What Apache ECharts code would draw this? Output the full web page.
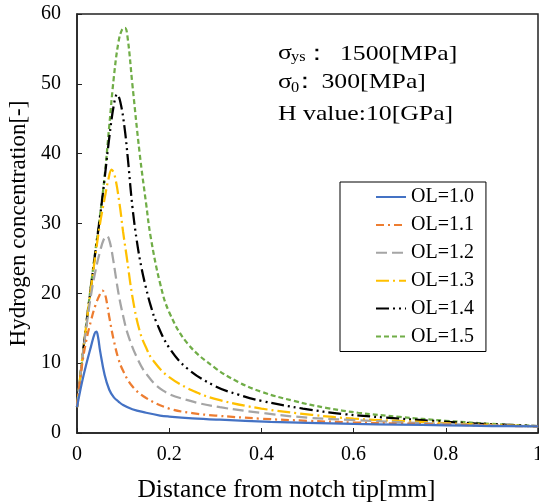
<!DOCTYPE html>
<html>
<head>
<meta charset="utf-8">
<script src="https://cdn.jsdelivr.net/npm/echarts@6/dist/echarts.min.js"></script>
<style>html,body{margin:0;padding:0;background:#fff}#c{width:539px;height:504px}</style>
</head>
<body>
<div id="c"></div>
<script>
const seriesNames = ['OL=1.0','OL=1.1','OL=1.2','OL=1.3','OL=1.4','OL=1.5'];
const xTicks = [0, 0.2, 0.4, 0.6, 0.8, 1];
const yTicks = [0, 10, 20, 30, 40, 50, 60];

const ol10X = [0,0.01,0.02,0.03,0.038,0.042,0.046,0.05,0.06,0.07,0.08,0.09,0.1,0.12,0.15,0.18,0.2,0.25,0.31,0.42,0.5,0.6,0.7,0.8,0.9,1.0];
const ol10Y = [3.7,7.0,9.8,12.3,14.2,14.5,13.6,11.8,8.3,6.2,5.1,4.5,4.0,3.4,2.9,2.5,2.35,2.1,1.9,1.6,1.45,1.3,1.2,1.1,1.0,0.95];

const ol11X = [0,0.01,0.02,0.03,0.04,0.05,0.055,0.06,0.065,0.07,0.08,0.09,0.1,0.12,0.15,0.2,0.25,0.3,0.4,0.5,0.6,0.7,0.8,0.9,1.0];
const ol11Y = [3.7,9.3,13.2,16.0,18.3,19.9,20.4,20.0,18.6,16.6,13.2,10.6,8.9,6.7,5.0,3.5,2.85,2.5,2.05,1.75,1.5,1.35,1.2,1.05,0.95];

const ol12X = [0,0.01,0.02,0.03,0.04,0.05,0.058,0.065,0.071,0.078,0.09,0.1,0.11,0.13,0.15,0.186,0.24,0.31,0.41,0.5,0.6,0.7,0.8,0.9,1.0];
const ol12Y = [3.7,9.8,15.0,19.6,23.2,26.0,27.7,28.2,27.4,25.0,20.0,16.8,14.2,10.8,8.5,6.1,4.7,3.7,2.8,2.2,1.85,1.55,1.3,1.1,0.95];

const ol13X = [0,0.01,0.02,0.03,0.04,0.05,0.06,0.068,0.075,0.082,0.0925,0.1,0.107,0.121,0.136,0.15,0.165,0.2,0.26,0.31,0.4,0.51,0.6,0.71,0.8,0.9,1.0];
const ol13Y = [3.7,9.8,15.4,20.6,25.5,30.0,33.6,36.3,37.7,36.8,32.7,28.8,25.6,19.2,14.6,12.2,10.4,8.0,5.8,4.7,3.5,2.6,2.06,1.7,1.4,1.15,0.95];

const ol14X = [0,0.01,0.02,0.03,0.04,0.05,0.06,0.07,0.08,0.087,0.094,0.103,0.11,0.12,0.13,0.14,0.15,0.16,0.172,0.2,0.24,0.3,0.35,0.4,0.49,0.58,0.67,0.77,0.87,1.0];
const ol14Y = [3.7,9.8,15.5,20.8,26.0,31.0,36.5,42.3,47.0,48.5,47.4,43.8,39.5,32.5,27.4,23.6,20.7,18.2,15.9,12.2,9.2,6.7,5.5,4.6,3.5,2.7,2.2,1.75,1.35,1.0];

const ol15X = [0,0.01,0.02,0.03,0.04,0.05,0.06,0.07,0.08,0.09,0.098,0.104,0.11,0.12,0.136,0.15,0.16,0.18,0.2,0.24,0.3,0.35,0.4,0.47,0.54,0.61,0.7,0.8,0.9,1.0];
const ol15Y = [3.7,9.8,15.6,21.0,26.2,31.2,36.8,44.0,51.0,56.0,57.8,58.0,56.5,50.0,40.0,32.8,28.0,21.5,17.3,12.8,9.3,7.3,5.9,4.6,3.6,2.9,2.3,1.75,1.3,1.0];

const xs = [ol10X, ol11X, ol12X, ol13X, ol14X, ol15X];
const ys = [ol10Y, ol11Y, ol12Y, ol13Y, ol14Y, ol15Y];
const colors = ['#4472C4','#ED7D31','#A5A5A5','#FFC000','#000000','#70AD47'];
const dashes = ['solid',[8,4,2,4],[11,5],[13,4,2,4],[13,4,2,4,2,4],[5,3]];

const serif = '"Liberation Serif","Times New Roman",serif';
const SX = 1.17;

const series = seriesNames.map((n,i)=>({
  name: n, type: 'line', showSymbol: false, symbol: 'none',
  smooth: 0.4,
  data: xs[i].map((x,j)=>[x, ys[i][j]]),
  lineStyle: {color: colors[i], width: 2.25, type: dashes[i]},
  itemStyle: {color: colors[i]},
  z: 10 - i
}));

function txt(t, left, top, size) {
  return {type:'text', left: left, top: top, scaleX: SX,
          style:{text: t, font: size + 'px ' + serif, fill:'#000'}};
}

const chart = echarts.init(document.getElementById('c'), null, {renderer: 'canvas'});
chart.setOption({
  animation: false,
  backgroundColor: '#fff',
  grid: {left: 77, right: 1, top: 14, bottom: 71, show: true, borderColor: '#222', borderWidth: 1.5,
         containLabel: false, outerBoundsMode: 'none'},
  xAxis: {
    type: 'value', min: xTicks[0], max: xTicks[xTicks.length-1], interval: 0.2,
    name: 'Distance from notch tip[mm]', nameLocation: 'middle', nameGap: 44,
    nameTextStyle: {fontFamily: serif, fontSize: 25.5, color: '#000', padding: [0, 42, 0, 0]},
    axisLine: {show: true, lineStyle: {color: '#222', width: 1.5}},
    axisTick: {show: true, inside: true, length: 5, lineStyle: {color: '#222'}},
    axisLabel: {fontFamily: serif, fontSize: 20, color: '#000', margin: 12,
      formatter: v => xTicks.includes(+v.toFixed(1)) ? String(+v.toFixed(1)) : ''},
    splitLine: {show: false}
  },
  yAxis: {
    type: 'value', min: yTicks[0], max: yTicks[yTicks.length-1], interval: 10,
    name: 'Hydrogen concentration[-]', nameLocation: 'middle', nameGap: 45,
    nameTextStyle: {fontFamily: serif, fontSize: 23, color: '#000'},
    axisLine: {show: true, lineStyle: {color: '#222', width: 1.5}},
    axisTick: {show: true, inside: true, length: 5, lineStyle: {color: '#222'}},
    axisLabel: {fontFamily: serif, fontSize: 20, color: '#000', margin: 16},
    splitLine: {show: false}
  },
  legend: {
    orient: 'vertical', left: 340, top: 182,
    data: seriesNames,
    borderColor: '#000', borderWidth: 1, borderRadius: 0,
    padding: [5, 12, 5, 35],
    itemWidth: 30, itemHeight: 16, itemGap: 7.9,
    itemStyle: {opacity: 0},
    textStyle: {fontFamily: serif, fontSize: 20, color: '#000'}
  },
  graphic: [
    txt('σ', 278, 42, 22),
    txt('ys', 291, 50, 14),
    txt('：', 304, 43, 22),
    txt('1500[MPa]', 340, 43, 22),
    txt('σ', 278, 71, 22),
    txt('0', 291, 81, 14),
    txt('：', 292, 71, 22),
    txt('300[MPa]', 321.5, 71, 22),
    txt('H value:10[GPa]', 278, 103.5, 22)
  ],
  series: series
});
</script>
</body>
</html>
